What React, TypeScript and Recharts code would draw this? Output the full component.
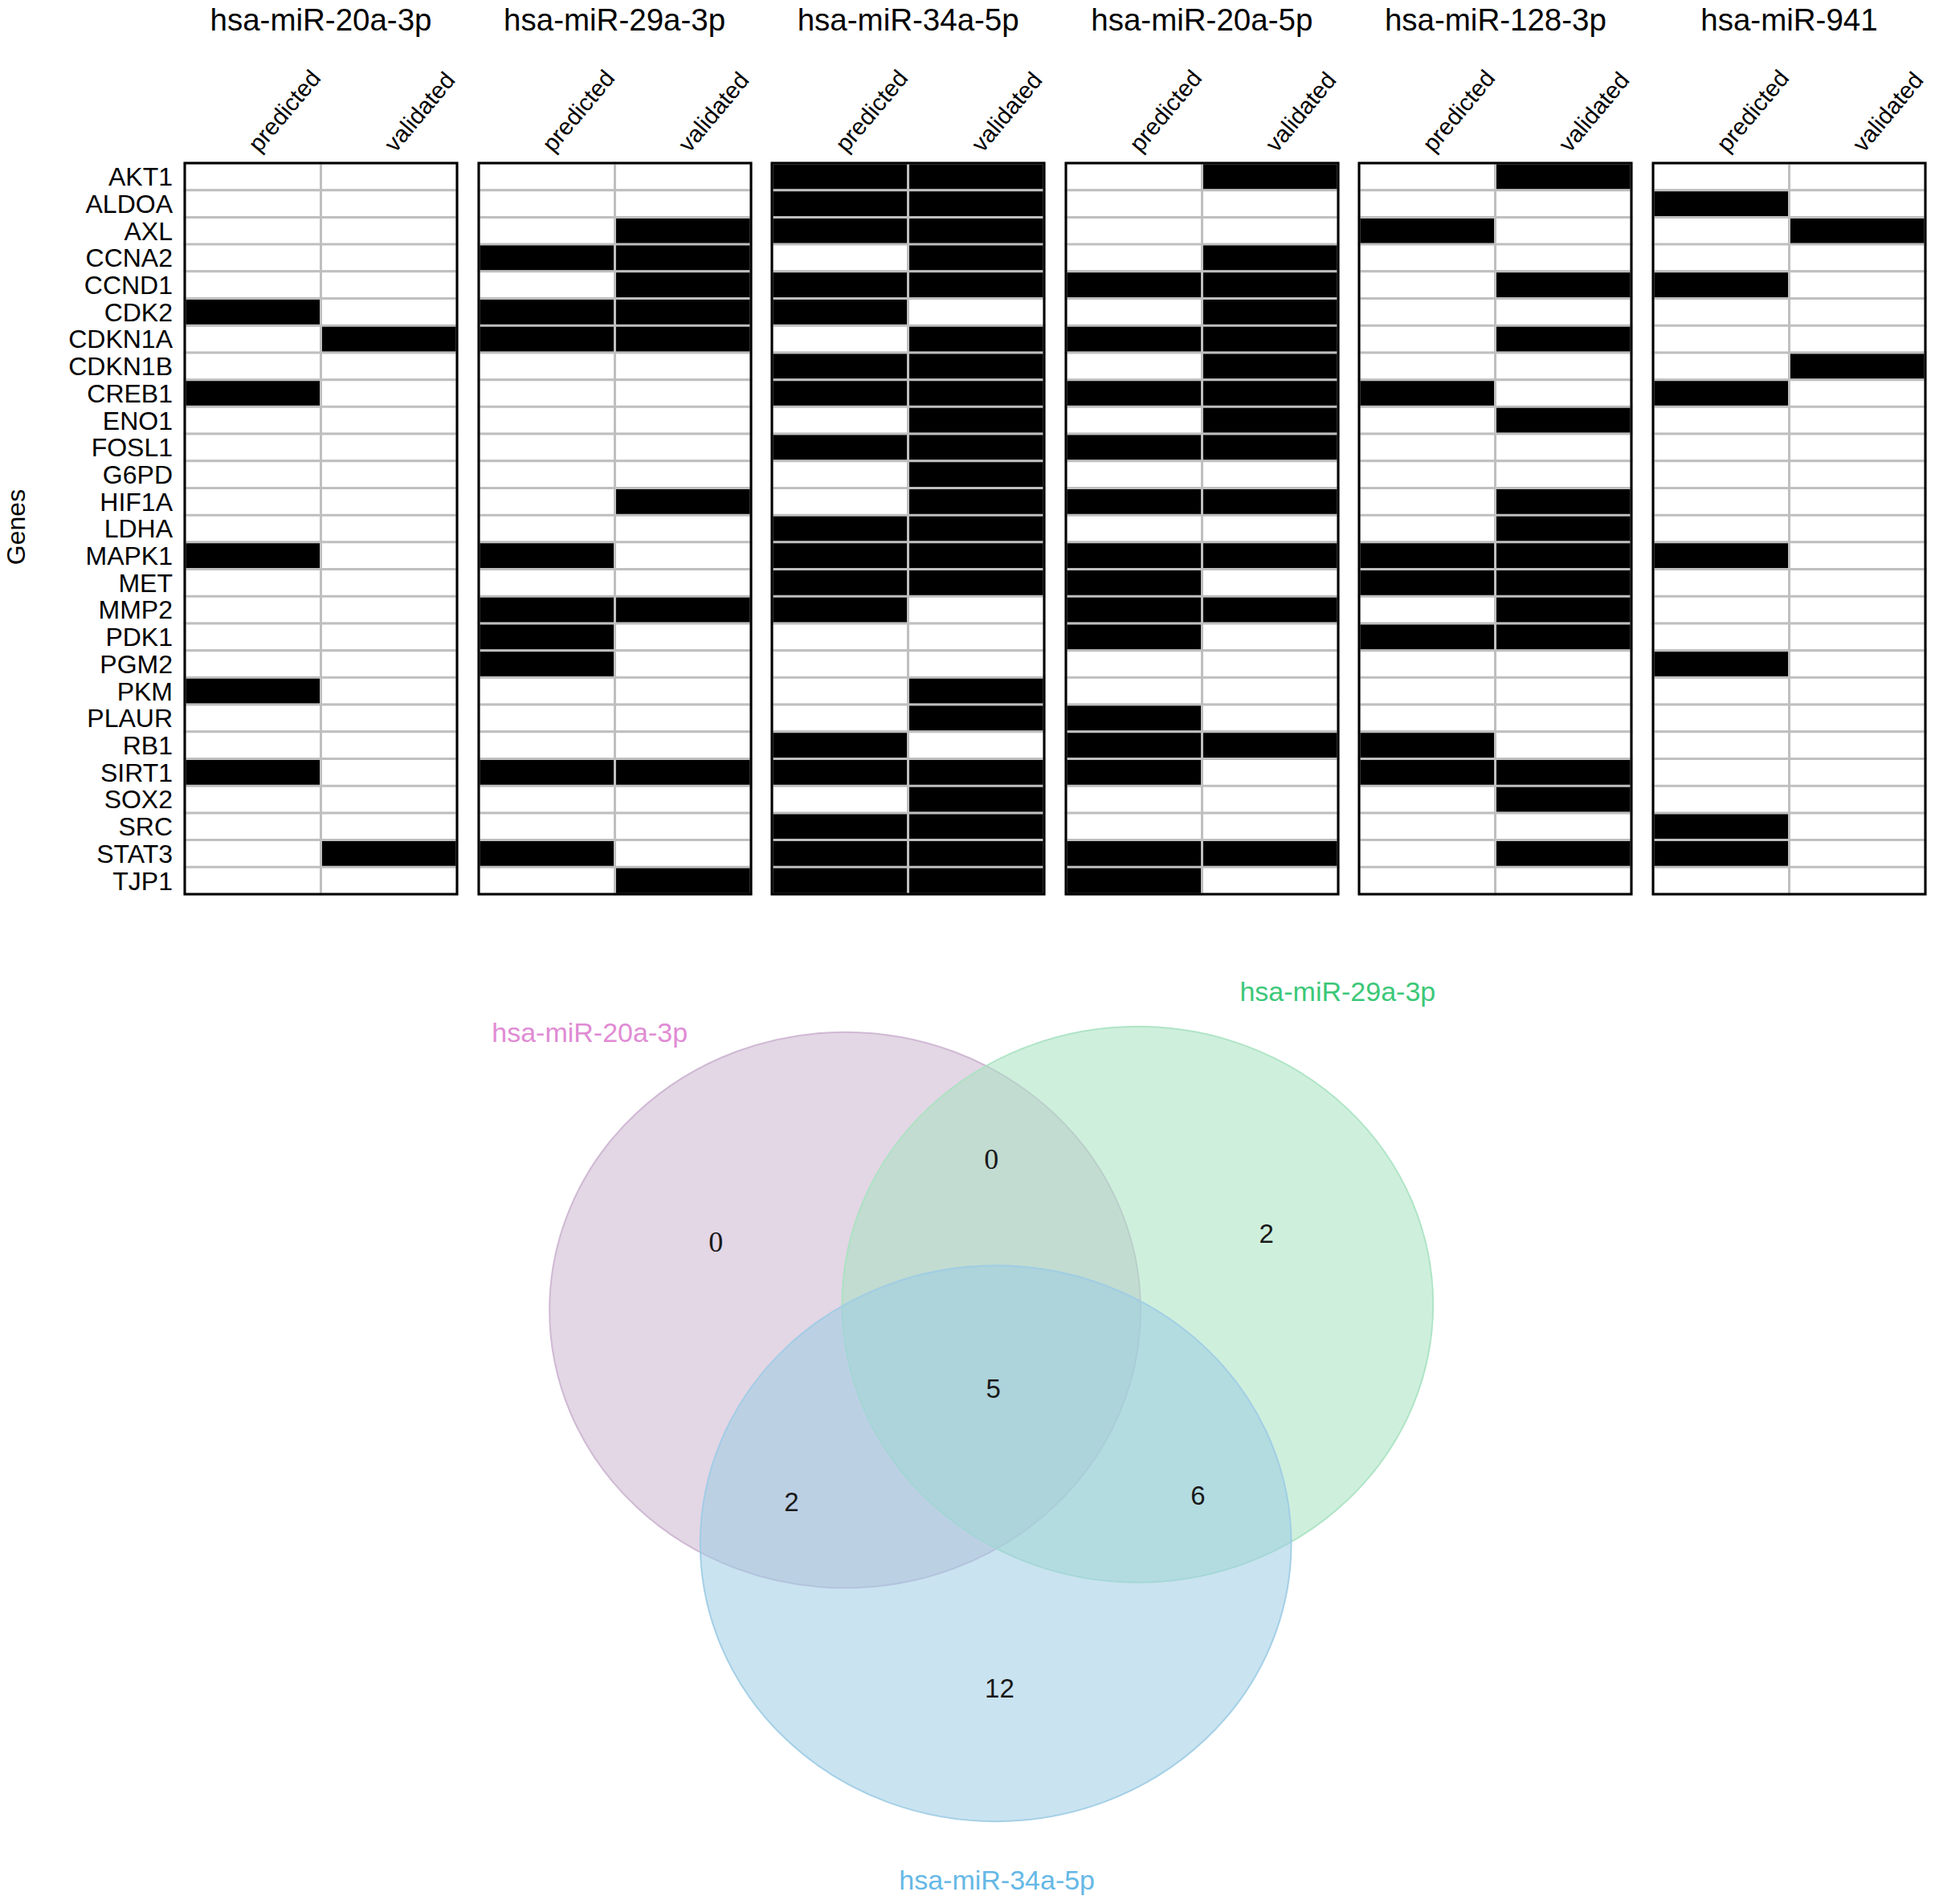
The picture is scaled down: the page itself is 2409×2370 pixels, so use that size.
import React from "react";
import { Bar, BarChart, Cell, ReferenceArea, Scatter, ScatterChart, XAxis, YAxis } from "recharts";

const GENES = [
  "AKT1", "ALDOA", "AXL", "CCNA2", "CCND1", "CDK2", "CDKN1A", "CDKN1B", "CREB1",
  "ENO1", "FOSL1", "G6PD", "HIF1A", "LDHA", "MAPK1", "MET", "MMP2", "PDK1",
  "PGM2", "PKM", "PLAUR", "RB1", "SIRT1", "SOX2", "SRC", "STAT3", "TJP1",
];

const MIRNAS = ["hsa-miR-20a-3p", "hsa-miR-29a-3p", "hsa-miR-34a-5p", "hsa-miR-20a-5p", "hsa-miR-128-3p", "hsa-miR-941"];
const COLUMNS = ["predicted", "validated"];

const PRED_20A_3P = ["CDK2", "CREB1", "MAPK1", "PKM", "SIRT1"];
const VAL_20A_3P = ["CDKN1A", "STAT3"];

const PRED_29A_3P = ["CCNA2", "CDK2", "CDKN1A", "MAPK1", "MMP2", "PDK1", "PGM2", "SIRT1", "STAT3"];
const VAL_29A_3P = ["AXL", "CCNA2", "CCND1", "CDK2", "CDKN1A", "HIF1A", "MMP2", "SIRT1", "TJP1"];

const PRED_34A_5P = [
  "AKT1", "ALDOA", "AXL", "CCND1", "CDK2", "CDKN1B", "CREB1", "FOSL1", "LDHA",
  "MAPK1", "MET", "MMP2", "RB1", "SIRT1", "SRC", "STAT3", "TJP1",
];
const VAL_34A_5P = [
  "AKT1", "ALDOA", "AXL", "CCNA2", "CCND1", "CDKN1A", "CDKN1B", "CREB1", "ENO1", "FOSL1", "G6PD",
  "HIF1A", "LDHA", "MAPK1", "MET", "PKM", "PLAUR", "SIRT1", "SOX2", "SRC", "STAT3", "TJP1",
];

const PRED_20A_5P = [
  "CCND1", "CDKN1A", "CREB1", "FOSL1", "HIF1A", "MAPK1", "MET", "MMP2", "PDK1",
  "PLAUR", "RB1", "SIRT1", "STAT3", "TJP1",
];
const VAL_20A_5P = [
  "AKT1", "CCNA2", "CCND1", "CDK2", "CDKN1A", "CDKN1B", "CREB1", "ENO1", "FOSL1",
  "HIF1A", "MAPK1", "MMP2", "RB1", "STAT3",
];

const PRED_128_3P = ["AXL", "CREB1", "MAPK1", "MET", "PDK1", "RB1", "SIRT1"];
const VAL_128_3P = [
  "AKT1", "CCND1", "CDKN1A", "ENO1", "HIF1A", "LDHA", "MAPK1", "MET", "MMP2",
  "PDK1", "SIRT1", "SOX2", "STAT3",
];

const PRED_941 = ["ALDOA", "CCND1", "CREB1", "MAPK1", "PGM2", "SRC", "STAT3"];
const VAL_941 = ["AXL", "CDKN1B"];

const PREDICTED = [PRED_20A_3P, PRED_29A_3P, PRED_34A_5P, PRED_20A_5P, PRED_128_3P, PRED_941];
const VALIDATED = [VAL_20A_3P, VAL_29A_3P, VAL_34A_5P, VAL_20A_5P, VAL_128_3P, VAL_941];

// Venn: three sets, circle centres in layout units (radius 1)
const VENN_SETS = ["hsa-miR-20a-3p", "hsa-miR-29a-3p", "hsa-miR-34a-5p"];
const VENN_CIRCLES = [
  { set: "hsa-miR-20a-3p", x: -0.5, y: 0.27, r: 1 },
  { set: "hsa-miR-29a-3p", x: 0.49, y: 0.29, r: 1 },
  { set: "hsa-miR-34a-5p", x: 0.01, y: -0.57, r: 1 },
];
const VENN_COUNTS = [
  { x: -0.937, y: 0.514, value: 0 },
  { x: -0.005, y: 0.812, value: 0 },
  { x: 0.926, y: 0.545, value: 2 },
  { x: 0.002, y: -0.013, value: 5 },
  { x: -0.681, y: -0.421, value: 2 },
  { x: 0.694, y: -0.397, value: 6 },
  { x: 0.023, y: -1.092, value: 12 },
];
const VENN_SET_LABELS = [
  { set: "hsa-miR-20a-3p", x: -1.364, y: 1.268 },
  { set: "hsa-miR-29a-3p", x: 1.167, y: 1.416 },
  { set: "hsa-miR-34a-5p", x: 0.014, y: -1.781 },
];

const FONT = "'Liberation Sans', Arial, Helvetica, sans-serif";
const SERIF = "'Liberation Serif', 'DejaVu Serif', serif";
const GRID = "#bfbfbf";

const VENN_FILL: Record<string, string> = {
  "hsa-miR-20a-3p": "#ccb4d0",
  "hsa-miR-29a-3p": "#a8e2c1",
  "hsa-miR-34a-5p": "#9dcce4",
};
const VENN_TEXT: Record<string, string> = {
  "hsa-miR-20a-3p": "#e08bd4",
  "hsa-miR-29a-3p": "#3cc878",
  "hsa-miR-34a-5p": "#66b8e6",
};

const BOX_LEFT = 230;
const PITCH = 365.6;
const BOX_W = 339;
const BOX_TOP = 203;
const BOX_H = 910;
const MT = 129; // plus a 1px top axis
const MR = 40;
const MB = 6;

const rows = GENES.map((gene) => ({ gene, predicted: 1, validated: 1 }));

const ColumnTick = (props: any) => {
  const { x, y, payload } = props;
  const label = COLUMNS[Math.floor(payload.value)];
  const ax = x + 8;
  return (
    <text
      x={ax}
      y={y}
      transform={`rotate(-50, ${ax}, ${y})`}
      fontSize={29.5}
      fontFamily={FONT}
      fill="#000"
      textAnchor="start"
    >
      {label}
    </text>
  );
};

function Panel({ index }: { index: number }) {
  const first = index === 0;
  const pred = PREDICTED[index];
  const val = VALIDATED[index];
  const boxLeft = BOX_LEFT + index * PITCH;
  const ml = first ? 0 : 12;
  const yw = first ? 200 : 0;
  const width = ml + yw + BOX_W + MR;

  return (
    <>
      <div
        style={{
          position: "absolute",
          left: boxLeft - 100,
          width: BOX_W + 200,
          top: 6,
          fontSize: 38.5,
          lineHeight: "38px",
          fontFamily: FONT,
          textAlign: "center",
          color: "#000",
          whiteSpace: "nowrap",
        }}
      >
        {MIRNAS[index]}
      </div>
      <div style={{ position: "absolute", left: boxLeft - ml - yw, top: BOX_TOP - MT - 1 }}>
        <BarChart
          width={width}
          height={MT + 1 + BOX_H + MB}
          data={rows}
          layout="vertical"
          margin={{ top: MT, right: MR, bottom: MB, left: ml }}
          barCategoryGap={0}
          barGap={0}
        >
          <XAxis
            type="number"
            orientation="top"
            domain={[0, 2]}
            ticks={[0.5, 1.5]}
            interval={0}
            height={1}
            axisLine={false}
            tickLine={false}
            tickSize={0}
            tickMargin={12}
            tick={<ColumnTick />}
          />
          <YAxis
            type="category"
            dataKey="gene"
            width={yw}
            hide={!first}
            interval={0}
            axisLine={false}
            tickLine={false}
            tickSize={0}
            tickMargin={15}
            tick={{ fontSize: 32, fill: "#000", fontFamily: FONT }}
          />
          <Bar dataKey="predicted" stackId="cell" stroke={GRID} strokeWidth={3} isAnimationActive={false}>
            {rows.map((r) => (
              <Cell key={r.gene} fill={pred.includes(r.gene) ? "#000" : "#fff"} />
            ))}
          </Bar>
          <Bar dataKey="validated" stackId="cell" stroke={GRID} strokeWidth={3} isAnimationActive={false}>
            {rows.map((r) => (
              <Cell key={r.gene} fill={val.includes(r.gene) ? "#000" : "#fff"} />
            ))}
          </Bar>
          <ReferenceArea
            x1={0}
            x2={2}
            fill="none"
            fillOpacity={0}
            stroke="#000"
            strokeWidth={3}
            ifOverflow="visible"
            zIndex={1500}
          />
        </BarChart>
      </div>
    </>
  );
}

const VX: [number, number] = [-1.9, 1.9];
const VY: [number, number] = [-1.85, 1.7];
const VW = 1398;
const VH = 1228;

const EllipseShape = (props: any) => {
  const { cx, cy, payload } = props;
  const rx = (payload.r * VW) / (VX[1] - VX[0]);
  const ry = (payload.r * VH) / (VY[1] - VY[0]);
  const color = VENN_FILL[payload.set];
  return (
    <ellipse
      cx={cx}
      cy={cy}
      rx={rx}
      ry={ry}
      fill={color}
      fillOpacity={0.55}
      stroke={color}
      strokeOpacity={0.9}
      strokeWidth={2}
    />
  );
};

const CountShape = (props: any) => {
  const { cx, cy, payload } = props;
  const serif = payload.value === 0;
  return (
    <text
      x={cx}
      y={cy}
      textAnchor="middle"
      dominantBaseline="central"
      fontSize={serif ? 36 : 33}
      fontFamily={serif ? SERIF : FONT}
      fill="#1a1a1a"
    >
      {payload.value}
    </text>
  );
};

const SetLabelShape = (props: any) => {
  const { cx, cy, payload } = props;
  return (
    <text
      x={cx}
      y={cy}
      textAnchor="middle"
      dominantBaseline="central"
      fontSize={34}
      fontFamily={FONT}
      fill={VENN_TEXT[payload.set]}
    >
      {payload.set}
    </text>
  );
};

function Venn() {
  return (
    <div style={{ position: "absolute", left: 537, top: 1136 }}>
      <ScatterChart width={VW} height={VH} margin={{ top: 0, right: 0, bottom: 0, left: 0 }}>
        <XAxis type="number" dataKey="x" domain={VX} hide />
        <YAxis type="number" dataKey="y" domain={VY} hide />
        <Scatter
          name={VENN_SETS.join(" / ")}
          data={VENN_CIRCLES}
          shape={(p: any) => <EllipseShape {...p} />}
          isAnimationActive={false}
        />
        <Scatter data={VENN_COUNTS} shape={(p: any) => <CountShape {...p} />} isAnimationActive={false} />
        <Scatter data={VENN_SET_LABELS} shape={(p: any) => <SetLabelShape {...p} />} isAnimationActive={false} />
      </ScatterChart>
    </div>
  );
}

export default function App() {
  return (
    <div
      style={{
        position: "absolute",
        left: 0,
        top: 0,
        width: 2409,
        height: 2370,
        background: "#fff",
        overflow: "hidden",
      }}
    >
      {MIRNAS.map((m, i) => (
        <Panel key={m} index={i} />
      ))}
      <div
        style={{
          position: "absolute",
          left: 20 - 100,
          top: 656 - 20,
          width: 200,
          height: 40,
          lineHeight: "40px",
          fontSize: 32,
          fontFamily: FONT,
          textAlign: "center",
          transform: "rotate(-90deg)",
        }}
      >
        Genes
      </div>
      <Venn />
    </div>
  );
}
